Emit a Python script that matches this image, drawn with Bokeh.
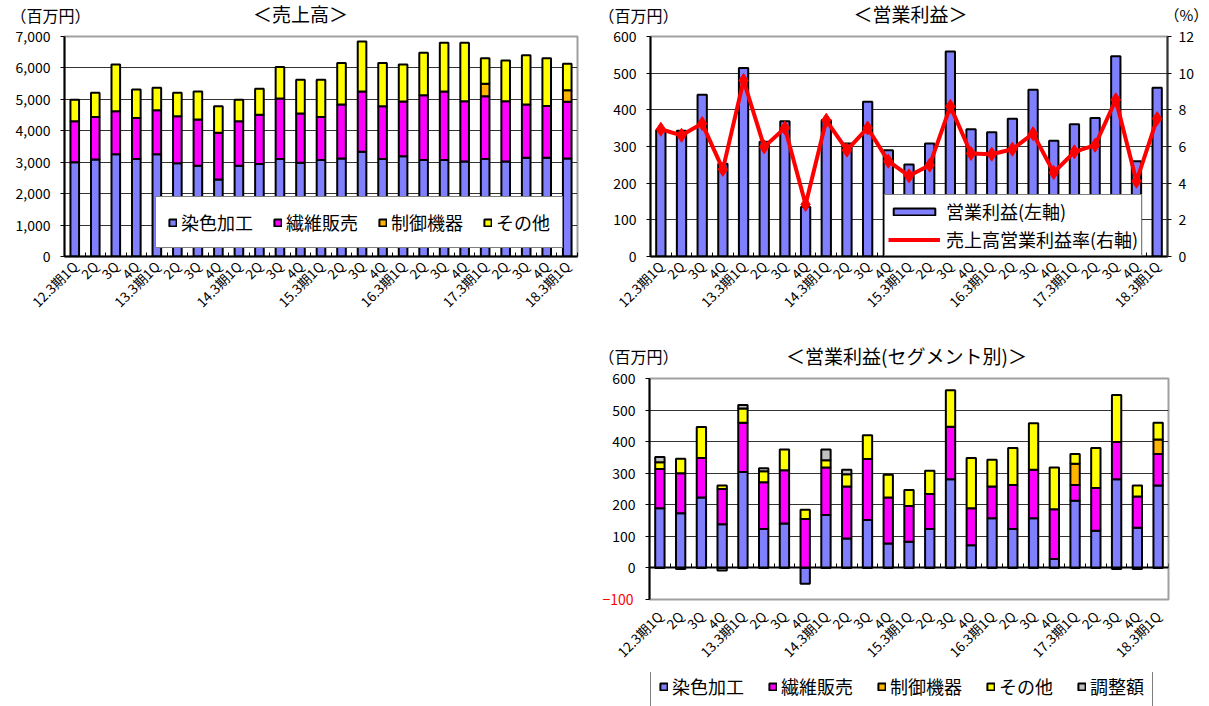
import math
import numpy as np
from bokeh.plotting import figure
from bokeh.models import (FixedTicker, Legend, LegendItem, Label, LinearAxis,
                          Range1d, Spacer, NumeralTickFormatter)
from bokeh.layouts import column, row
from bokeh.embed import file_html
from bokeh.resources import INLINE

FONT = "Noto Sans CJK JP"

# ---------------- data ----------------
quarters = ["12.3期1Q", "2Q", "3Q", "4Q", "13.3期1Q", "2Q", "3Q", "4Q",
            "14.3期1Q", "2Q", "3Q", "4Q", "15.3期1Q", "2Q", "3Q", "4Q",
            "16.3期1Q", "2Q", "3Q", "4Q", "17.3期1Q", "2Q", "3Q", "4Q", "18.3期1Q"]

# 売上高 (百万円)
sales_dye = [3000, 3090, 3250, 3100, 3250, 2970, 2890, 2450, 2890, 2940, 3100, 2980, 3070,
             3120, 3330, 3100, 3190, 3070, 3070, 3020, 3100, 3020, 3140, 3140, 3120]
sales_textile = [1300, 1350, 1370, 1310, 1400, 1490, 1470, 1490, 1410, 1570, 1930, 1570, 1370,
                 1720, 1920, 1680, 1740, 2060, 2180, 1920, 2000, 1920, 1700, 1650, 1800]
sales_control = [0, 0, 0, 0, 0, 0, 0, 0, 0, 0, 0, 0, 0,
                 0, 0, 0, 0, 0, 0, 0, 400, 0, 0, 0, 370]
sales_other = [690, 770, 1490, 900, 720, 750, 890, 840, 690, 830, 1000, 1070, 1180,
               1320, 1590, 1380, 1180, 1350, 1550, 1860, 810, 1300, 1560, 1520, 840]

# 営業利益 (百万円) and 売上高営業利益率 (%)
op_profit = [345, 343, 441, 253, 514, 313, 369, 135, 372, 308, 422, 290, 251,
             308, 559, 347, 339, 376, 455, 316, 361, 378, 546, 260, 460]
op_margin = [6.94, 6.61, 7.25, 4.75, 9.60, 5.98, 7.01, 2.84, 7.43, 5.80, 7.01, 5.20, 4.40,
             4.98, 8.19, 5.62, 5.58, 5.85, 6.70, 4.58, 5.71, 6.07, 8.55, 4.11, 7.52]

# 営業利益 セグメント別 (百万円)
seg_dye = [189, 173, 223, 138, 304, 123, 141, -50, 168, 93, 152, 77, 83,
           123, 281, 72, 157, 123, 157, 28, 213, 118, 281, 127, 261]
seg_textile = [124, 127, 125, 112, 156, 148, 168, 155, 150, 165, 193, 146, 113,
               111, 166, 117, 101, 140, 154, 158, 50, 135, 118, 99, 100]
seg_control = [0, 0, 0, 0, 0, 0, 0, 0, 0, 0, 0, 0, 0,
               0, 0, 0, 0, 0, 0, 0, 67, 0, 0, 0, 46]
seg_other = [22, 46, 98, 11, 45, 35, 66, 29, 23, 39, 75, 72, 51,
             74, 116, 159, 85, 117, 147, 132, 31, 127, 149, 35, 53]
seg_adjust = [16, -3, 0, -8, 11, 10, 0, 0, 34, 14, 0, 0, 0,
              0, 0, 0, 0, 0, 0, 0, 0, 0, -3, -3, 0]

sales_yticks = [0, 1000, 2000, 3000, 4000, 5000, 6000, 7000]
profit_yticks = [0, 100, 200, 300, 400, 500, 600]
margin_yticks = [0, 2, 4, 6, 8, 10, 12]
seg_yticks = [-100, 0, 100, 200, 300, 400, 500, 600]
seg_pos_yticks = [0, 100, 200, 300, 400, 500, 600]
seg_neg_yticks = [-100]

sales_names = ["染色加工", "繊維販売", "制御機器", "その他"]
seg_names = ["染色加工", "繊維販売", "制御機器", "その他", "調整額"]
colors = ["#8080FF", "#FF00FF", "#FFB400", "#FFFF00", "#C0C0C0"]

n = len(quarters)
xpos = np.arange(n, dtype=float)
centers = list(range(n))
bounds = [i - 0.5 for i in range(n + 1)]
XLAB = "13.5px"


def stack(series):
    pos = np.zeros(n)
    neg = np.zeros(n)
    out = []
    for s in series:
        s = np.asarray(s, dtype=float)
        bottom = np.where(s >= 0, pos, neg)
        top = bottom + s
        pos = np.where(s >= 0, top, pos)
        neg = np.where(s < 0, top, neg)
        keep = s != 0
        out.append((xpos[keep], bottom[keep], top[keep]))
    return out


def blank_fig(w, h):
    f = figure(frame_width=w, frame_height=h, x_range=Range1d(0, w), y_range=Range1d(0, h),
               min_border=0, x_axis_location=None, y_axis_location=None,
               output_backend="svg", toolbar_location=None)
    f.frame_align = False
    f.title.visible = False
    f.grid.visible = False
    f.outline_line_color = None
    f.background_fill_color = "white"
    f.border_fill_color = "white"
    return f


def add_text(f, x, y, text, size, align="left", color="black"):
    f.add_layout(Label(x=x, y=y, text=text, text_font=FONT, text_font_size=size,
                       text_align=align, text_baseline="middle", text_color=color))


def base_fig(fw, fh, y0, y1, yticks, left, right, top, bottom, fmt=None):
    p = figure(frame_width=fw, frame_height=fh,
               x_range=Range1d(-0.5, n - 0.5), y_range=Range1d(y0, y1),
               min_border_left=left, min_border_right=right,
               min_border_top=top, min_border_bottom=bottom,
               output_backend="svg", toolbar_location=None)
    p.frame_align = False
    p.title.visible = False
    p.background_fill_color = "white"
    p.border_fill_color = "white"
    p.outline_line_color = "#A0A0A0"
    p.outline_line_width = 2
    p.xgrid.visible = False
    yt = FixedTicker(ticks=yticks)
    p.ygrid.ticker = yt
    p.ygrid.grid_line_color = "#333333"
    p.ygrid.grid_line_width = 1
    ya = p.yaxis[0]
    ya.ticker = yt
    if fmt:
        ya.formatter = NumeralTickFormatter(format=fmt)
    ya.axis_line_color = "black"
    ya.axis_line_width = 2
    ya.major_tick_in = 0
    ya.major_tick_out = 4
    ya.major_tick_line_color = "black"
    ya.minor_tick_line_color = None
    ya.major_label_standoff = 10
    ya.major_label_text_font = FONT
    ya.major_label_text_font_size = "14px"
    ya.major_label_text_color = "black"
    xa = p.xaxis[0]
    xa.ticker = FixedTicker(ticks=centers, minor_ticks=bounds)
    xa.major_label_overrides = {i: q for i, q in enumerate(quarters)}
    xa.major_label_orientation = math.pi / 4
    xa.major_tick_in = 0
    xa.major_tick_out = 0
    xa.minor_tick_in = 4
    xa.minor_tick_out = 0
    xa.minor_tick_line_color = "black"
    xa.minor_tick_line_width = 1
    xa.axis_line_color = "black"
    xa.axis_line_width = 2
    xa.major_label_text_font = FONT
    xa.major_label_text_font_size = XLAB
    xa.major_label_text_color = "black"
    xa.major_label_standoff = 7
    return p


def style_legend(leg):
    leg.border_line_color = "black"
    leg.border_line_width = 1.5
    leg.background_fill_color = "white"
    leg.background_fill_alpha = 1.0
    leg.label_text_font = FONT
    leg.label_text_font_size = "18px"
    leg.label_text_color = "black"
    leg.margin = 0


# ---------------- header of top row ----------------
head_top = blank_fig(1209, 26)
add_text(head_top, 10, 12, "（百万円）", "16px")
add_text(head_top, 300, 13, "＜売上高＞", "19px", align="center")
add_text(head_top, 598, 12, "（百万円）", "16px")
add_text(head_top, 910, 13, "＜営業利益＞", "19px", align="center")
add_text(head_top, 1164, 12, "（%）", "15px")

# ---------------- chart 1: 売上高 ----------------
p1 = base_fig(513, 220, 0, 7000, sales_yticks, 64, 13, 10, 79, fmt="0,0")
items1 = []
for name, col, (xs, b, t) in zip(sales_names, colors,
                                 stack([sales_dye, sales_textile, sales_control, sales_other])):
    r = p1.vbar(x=xs, bottom=b, top=t, width=0.42, fill_color=col,
                line_color="black", line_width=2)
    items1.append(LegendItem(label=name, renderers=[r]))
leg1 = Legend(items=items1, orientation="horizontal", location=(91, 8),
              glyph_width=9, glyph_height=9, label_standoff=4, spacing=20,
              padding=12, label_height=18)
style_legend(leg1)
p1.add_layout(leg1)

# ---------------- chart 2: 営業利益 ----------------
p2 = base_fig(517, 220, 0, 600, profit_yticks, 60, 42, 10, 79)
p2.extra_y_ranges = {"pct": Range1d(0, 12)}
ra = LinearAxis(y_range_name="pct", ticker=FixedTicker(ticks=margin_yticks))
ra.axis_line_color = "#333333"
ra.axis_line_width = 2
ra.major_tick_in = 0
ra.major_tick_out = 4
ra.minor_tick_line_color = None
ra.major_label_standoff = 7
ra.major_label_text_font = FONT
ra.major_label_text_font_size = "14px"
ra.major_label_text_color = "black"
p2.add_layout(ra, "right")
r_bar = p2.vbar(x=xpos, top=op_profit, width=0.45, fill_color=colors[0],
                line_color="black", line_width=2)
r_line = p2.line(x=xpos, y=op_margin, y_range_name="pct", line_color="red", line_width=4)
r_pts = p2.scatter(x=xpos, y=op_margin, y_range_name="pct", marker="diamond", size=14,
                   fill_color="red", line_color="red")
leg2 = Legend(items=[LegendItem(label="営業利益(左軸)", renderers=[r_bar]),
                     LegendItem(label="売上高営業利益率(右軸)", renderers=[r_line, r_pts])],
              location=(234, 0), glyph_width=52, glyph_height=9, label_standoff=6,
              spacing=2, padding=3, label_height=20)
style_legend(leg2)
p2.add_layout(leg2)

# ---------------- chart 3: 営業利益(セグメント別) ----------------
head3 = blank_fig(619, 33)
add_text(head3, 8, 13, "（百万円）", "16px")
add_text(head3, 316, 13, "＜営業利益(セグメント別)＞", "19px", align="center")

p3 = base_fig(519, 221, -100, 600, seg_yticks, 59, 41, 10, 73)
ya3 = p3.yaxis[0]
ya3.ticker = FixedTicker(ticks=seg_pos_yticks, minor_ticks=seg_neg_yticks)
ya3.minor_tick_in = 0
ya3.minor_tick_out = 4
ya3.minor_tick_line_color = "black"
# second left axis carrying only the red negative tick label, pulled back under the first one
neg_axis = LinearAxis(ticker=FixedTicker(ticks=seg_neg_yticks))
neg_axis.axis_line_color = None
neg_axis.major_tick_line_color = None
neg_axis.minor_tick_line_color = None
neg_axis.major_tick_in = 0
neg_axis.major_tick_out = 0
neg_axis.major_label_standoff = -24
neg_axis.major_label_text_font = FONT
neg_axis.major_label_text_font_size = "14px"
neg_axis.major_label_text_color = "red"
p3.add_layout(neg_axis, "left")
xa3 = p3.xaxis[0]
xa3.axis_line_color = None
xa3.minor_tick_line_color = None
xa3.major_label_standoff = 14
zero_axis = LinearAxis(fixed_location=0, ticker=FixedTicker(ticks=[], minor_ticks=bounds))
zero_axis.axis_line_color = "black"
zero_axis.axis_line_width = 2
zero_axis.major_tick_line_color = None
zero_axis.minor_tick_in = 4
zero_axis.minor_tick_out = 0
zero_axis.minor_tick_line_color = "black"
p3.add_layout(zero_axis, "below")
seg_stacks = stack([seg_dye, seg_textile, seg_control, seg_other, seg_adjust])
for name, col, (xs, b, t) in zip(seg_names, colors, seg_stacks):
    p3.vbar(x=xs, bottom=b, top=t, width=0.45, fill_color=col,
            line_color="black", line_width=2)

# legend of chart 3 (cut at the page bottom like the reference); its proxy glyphs
# are mapped into the area hidden behind the legend box
legf = blank_fig(619, 34)
proxy_x0 = -0.5 - 100 / 400 * n
proxy_y0 = -50 - 5 / 24 * 613
legf.extra_x_ranges = {"px": Range1d(proxy_x0, proxy_x0 + 619 / 400 * n)}
legf.extra_y_ranges = {"py": Range1d(proxy_y0, proxy_y0 + 613 / 24 * 34)}
items3 = []
for name, col, (xs, b, t) in zip(seg_names, colors, seg_stacks):
    r = legf.vbar(x=xs, bottom=b, top=t, x_range_name="px", y_range_name="py",
                  width=0.45, fill_color=col, line_color="black", line_width=2)
    items3.append(LegendItem(label=name, renderers=[r]))
leg3 = Legend(items=items3, orientation="horizontal", location=(60, -2),
              glyph_width=9, glyph_height=9, label_standoff=4, spacing=24,
              padding=8, label_height=20)
style_legend(leg3)
legf.add_layout(leg3)

layout = column(head_top,
                row(p1, p2),
                row(Spacer(width=590, height=371),
                    column(head3, p3, legf)))
open("out.html", "w").write(file_html(layout, INLINE))
